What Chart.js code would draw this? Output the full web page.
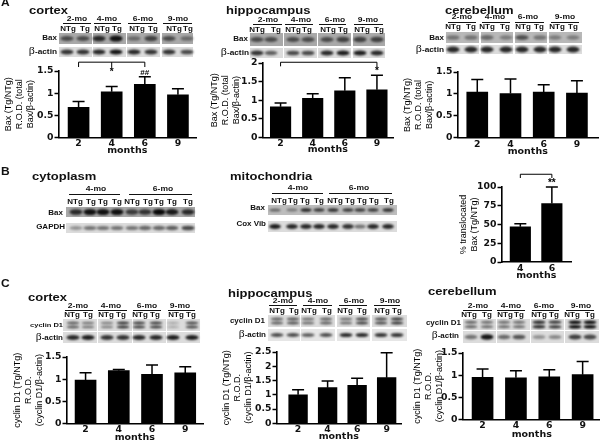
<!DOCTYPE html>
<html><head><meta charset="utf-8">
<style>
html,body{margin:0;padding:0;background:#fff;width:600px;height:442px;overflow:hidden}
#page{position:absolute;left:0;top:0;width:600px;height:442px;overflow:hidden;filter:blur(.35px)}
#page canvas{position:absolute}
.t{position:absolute;white-space:nowrap;line-height:1;color:#111;font-family:"Liberation Sans",Arial,sans-serif}
.g{font-family:"Liberation Serif",serif;font-weight:400;font-size:1.45em;line-height:.6}
</style>
<script src="https://cdn.jsdelivr.net/npm/chart.js@4/dist/chart.umd.min.js"></script>
</head><body><div id="page"><canvas id="blots" width="600" height="442" style="left:0;top:0"></canvas></div>
<script>
// ---- categories and tick labels
const monthsAll = ['2','4','6','9'];
const monthsTrans = ['4','6'];
const ticks15 = [0,0.5,1,1.5];
const ticks20 = [0,0.5,1,1.5,2];
const ticks25 = [0,0.5,1,1.5,2,2.5];
const ticks100 = [0,25,50,75,100];
// ---- bar values and upper error-bar ends
const baxCortex = [0.68,1.03,1.20,0.96];
const baxCortexErr = [0.81,1.15,1.37,1.10];
const baxHippo = [0.82,1.05,1.25,1.28];
const baxHippoErr = [0.92,1.17,1.60,1.67];
const baxCereb = [1.04,1.01,1.04,1.02];
const baxCerebErr = [1.33,1.34,1.21,1.30];
const transloc = [47,78];
const translocErr = [51,100];
const cycCortex = [0.98,1.19,1.11,1.14];
const cycCortexErr = [1.145,1.22,1.32,1.28];
const cycHippo = [1.0,1.25,1.33,1.6];
const cycHippoErr = [1.18,1.48,1.58,2.47];
const cycCereb = [0.95,0.94,0.96,1.01];
const cycCerebErr = [1.14,1.10,1.12,1.31];
// ---- band darkness of the western-blot strips
const wbCortexBax = [.6,.6,.8,.95,.4,.65,.6,.4];
const wbCortexAct = [.8,.8,.85,.95,.85,.8,.8,.7];
const wbHippoBax = [.6,.6,.6,.6,.6,.65,.65,.65];
const wbHippoAct = [.8,.6,.7,.7,.85,.9,.9,.85];
const wbCerebBax = [.4,.4,.45,.35,.6,.4,.35,.35];
const wbCerebAct = [.85,.85,.85,.85,.85,.85,.85,.85];
const wbCytoBax = [.8,.95,.95,.95,.7,.75,1,.9,.8];
const wbCytoGapdh = [.35,.5,.5,.5,.5,.55,.55,.6,.7];
const wbMitoBax = [.5,.4,.85,.75,.8,.75,.75,.75,.8];
const wbMitoCox = [.9,.85,.85,.85,.85,.8,.5,.85,.85];
const wbCycCortex = [.6,.5,.45,.8,.75,.75,.25,.7];
const wbCycCortexAct = [.85,.9,.8,.8,.85,.85,.9,.9];
const wbCycHippo = [.6,.65,.55,.6,.55,.75,.7,.8];
const wbCycHippoAct = [.7,.7,.65,.7,.85,.85,.8,.8];
const wbCycCereb = [.6,.55,.55,.55,.85,.8,1,1];
const wbCycCerebAct = [.5,.95,.55,.65,.35,.4,.75,.7];

const FONT = '"Liberation Sans",Arial,sans-serif';
const WIDE = '"DejaVu Sans",sans-serif';
const page = document.getElementById('page');
const SQUAT = 1.2;
function T(txt,x,y,size,align,bold,html){
  const s=document.createElement('span'); s.className='t';
  if(html) s.innerHTML=txt; else s.textContent=txt;
  s.style.left=x+'px'; s.style.top=y+'px'; s.style.fontSize=(size/SQUAT)+'px';
  s.style.fontWeight=bold===false?'400':'700';
  const tx=align==='r'?'-100%':align==='l'?'0':'-50%';
  s.style.transformOrigin=(align==='r'?'right':align==='l'?'left':'center')+' center';
  s.style.transform='translate('+tx+',-50%) scaleX('+SQUAT+')';
  page.appendChild(s);
}
const BETA='<span class="g">β</span>-actin';

// ---- blots
const bc=document.getElementById('blots').getContext('2d');
function strip(panels,y0,y1,bg,lanes,levels,opt){
  opt=opt||{};
  const bh=opt.bh||2.6, bw=opt.bw||6.5, dbl=opt.dbl||0;
  panels.forEach(p=>{
    bc.filter='none'; bc.fillStyle=bg; bc.fillRect(p[0],y0,p[1]-p[0],y1-y0);
  });
  const yc=(y0+y1)/2;
  lanes.forEach((x,i)=>{
    const a=levels[i];
    bc.filter='blur(.9px)';
    bc.fillStyle='rgba(8,8,8,'+a+')';
    const b=bh*(.7+a*.5);
    const ys=dbl?[yc-dbl,yc+dbl]:[yc];
    ys.forEach(yy=>{bc.beginPath();bc.ellipse(x,yy,bw,b,0,0,Math.PI*2);bc.fill();});
  });
  bc.filter='none';
}
function months(list,y,uy){
  list.forEach(m=>{
    T(m[0]+'-mo',m[1],y,8.5,'c');
    bc.fillStyle='#111'; bc.fillRect(m[2],uy,m[3]-m[2],1);
  });
}
function lanesText(list,y){
  list.forEach(p=>T(p[0],p[1],y,8,'c'));
}
function pairs(xs){
  return xs.map((x,i)=>[i%2?'Tg':'NTg',x]);
}
const GRAY='#a9a9a9', LIGHT='#dcdcdc';
// A cortex
let p=[[59,92],[93,126],[127,160],[162,193]];
let l=[67,83,99,116,134,151,169,187];
strip(p,33,44,GRAY,l,wbCortexBax);
strip(p,47,57,LIGHT,l,wbCortexAct,{bh:2.2});
months([['2',77,63,91],['4',107,94,121],['6',143,128,157],['9',178,163,192]],20,23);
lanesText(pairs([68,85,102,117,137,153,174,188]),29);
T('Bax',57,38,8,'r'); T(BETA,57,52,8.3,'r',true,true);
// A hippocampus
p=[[250,283],[284,317],[318,351],[353,385]];
l=[257,271,293,308,327,343,360,377];
strip(p,33,46,GRAY,l,wbHippoBax);
strip(p,48,58,LIGHT,l,wbHippoAct,{bh:2.2});
months([['2',268,253,282],['4',301,285,313],['6',335,319,346],['9',368,354,383]],21,24);
lanesText(pairs([257,276,293,307,328,343,362,379]),30);
T('Bax',248,39,8,'r'); T(BETA,249,53,8.3,'r',true,true);
// A cerebellum
p=[[446,479],[481,513],[515,547],[549,582]];
l=[453,471,487,506,522,540,555,573];
strip(p,32,43,'#b8b8b8',l,wbCerebBax);
strip(p,45,54,LIGHT,l,wbCerebAct,{bh:2.6});
months([['2',462,448,476],['4',495,482,510],['6',528,515,544],['9',565,551,579]],18,22);
lanesText(pairs([453,471,487,505,523,539,557,573]),27);
T('Bax',444,38,8,'r'); T(BETA,444,50,8.3,'r',true,true);
// B cytoplasm
p=[[66,195]]; l=[76,90,103,117,132,145,159,172,188];
strip(p,207,217,GRAY,l,wbCytoBax,{bw:6.5});
strip(p,223,233,LIGHT,l,wbCytoGapdh,{bh:2.2});
months([['4',96,69,120],['6',163,129,192]],190,194);
[['NTg',75],['Tg',91],['Tg',103],['Tg',117],['NTg',132],['Tg',148],['Tg',159],['Tg',172],['Tg',188]].forEach(q=>T(q[0],q[1],202,8,'c'));
T('Bax',63,213,8,'r'); T('GAPDH',65,227,8,'r');
// B mitochondria
p=[[268,397]]; l=[275,292,306,319,333,348,360,373,388];
strip(p,205,215,'#bdbdbd',l,wbMitoBax,{bw:5.5,bh:1.6});
strip(p,221,232,LIGHT,l,wbMitoCox,{bw:5.8,bh:2.2});
months([['4',298,272,323],['6',359,329,392]],189,193);
[['NTg',279],['Tg',293],['Tg',305],['Tg',319],['NTg',335],['Tg',350],['Tg',362],['Tg',374],['Tg',389]].forEach(q=>T(q[0],q[1],200.5,8,'c'));
T('Bax',265,208,8,'r'); T('Cox Vib',266,224,8,'r');
// C cortex
p=[[63,97],[98,132],[133,166],[167,200]]; l=[73,88,107,123,139,156,173,192];
strip(p,319,331,LIGHT,l,wbCycCortex,{bh:1.4,dbl:2});
strip(p,332,343,LIGHT,l,wbCycCortexAct,{bh:2.2});
months([['2',78,65,93],['4',111,98,127],['6',147,133,161],['9',180,168,195]],307,310);
lanesText(pairs([72,88,106,121,140,155,176,191]),315);
T('cyclin D1',63,325,7.5,'r'); T(BETA,63,338,8,'r',true,true);
// C hippocampus
p=[[268,300],[301,335],[337,370],[372,407]]; l=[277,293,308,326,346,362,381,397];
strip(p,315,327,LIGHT,l,wbCycHippo,{bh:1.4,dbl:2});
strip(p,329,341,'#e6e6e6',l,wbCycHippoAct,{bh:1.8});
months([['2',283,269,297],['4',318,303,332],['6',354,339,367],['9',390,374,400]],302,305);
lanesText(pairs([277,294,309,327,345,362,382,397]),311);
T('cyclin D1',265,321,8,'r'); T(BETA,266,335,8,'r',true,true);
// C cerebellum
p=[[463,496],[497,530],[531,564],[565,599]]; l=[471,487,504,519,539,555,575,590];
strip(p,319,330,LIGHT,l,wbCycCereb,{bh:1.5,dbl:2.3});
strip(p,331,343,LIGHT,l,wbCycCerebAct,{bh:2.3});
months([['2',478,463,492],['4',511,497,525],['6',544,532,559],['9',581,566,594]],307,310);
lanesText(pairs([469,487,505,519,539,554,572,590]),315);
T('cyclin D1',461,323,8,'r'); T(BETA,459,336,8,'r',true,true);

// headings
T('A',1,3,12,'l'); T('B',1,172,12,'l'); T('C',1,284,12,'l');
T('cortex',29,10,13,'l'); T('hippocampus',226,10,13,'l'); T('cerebellum',445,10,13,'l');
T('cytoplasm',32,176,13,'l'); T('mitochondria',230,176,13,'l');
T('cortex',28,297,13,'l'); T('hippocampus',228,293,13,'l'); T('cerebellum',428,291,13,'l');

// ---- charts
const marks={
  id:'marks',
  afterDatasetsDraw(ch,_,o){
    const c=ch.ctx,x=ch.scales.x,y=ch.scales.y;
    c.save(); c.strokeStyle='#000'; c.fillStyle='#000'; c.lineWidth=1.5;
    (o.err||[]).forEach((v,i)=>{
      const px=x.getPixelForValue(i), top=y.getPixelForValue(v), b=y.getPixelForValue(ch.data.datasets[0].data[i]);
      c.beginPath(); c.moveTo(px,b); c.lineTo(px,top); c.moveTo(px-6,top); c.lineTo(px+6,top); c.stroke();
    });
    if(o.bracket){
      const k=o.bracket, a=x.getPixelForValue(k.from), e=x.getPixelForValue(k.to), t=y.getPixelForValue(k.top), f=y.getPixelForValue(k.foot);
      c.lineWidth=1; c.beginPath(); c.moveTo(a,f); c.lineTo(a,t); c.lineTo(e,t); c.lineTo(e,f);
      if(k.mid!==undefined){const m=x.getPixelForValue(k.mid); c.moveTo(m,t); c.lineTo(m,f);}
      c.stroke();
    }
    (o.notes||[]).forEach(n=>{
      c.font='700 '+n.size+'px '+FONT; c.textAlign='center'; c.textBaseline='middle';
      c.fillText(n.text,x.getPixelForValue(n.at),y.getPixelForValue(n.y));
    });
    c.restore();
  }
};
function panel(k){
  const cv=document.createElement('canvas');
  const left=k.line1-5.5, top=k.yTop-14, bottom=k.monthsY+6, pr=8;
  const W=Math.round(k.right-left+pr), H=Math.round(bottom-top);
  cv.width=W; cv.height=H; cv.style.left=left+'px'; cv.style.top=top+'px';
  page.appendChild(cv);
  const n=k.labels.length;
  new Chart(cv.getContext('2d'),{
    type:'bar',
    data:{labels:k.labels,datasets:[{data:k.values,backgroundColor:'#000',barThickness:k.barW,borderWidth:0}]},
    plugins:[marks],
    options:{
      responsive:false,animation:false,
      layout:{padding:{top:14,right:pr,left:0,bottom:0}},
      plugins:{legend:{display:false},tooltip:{enabled:false},
        marks:{err:k.err,bracket:k.bracket,notes:k.notes}},
      scales:{
        x:{type:'category',
          grid:{display:false,drawTicks:false},
          border:{color:'#000',width:1.6},
          ticks:{color:'#111',padding:1,maxRotation:0,autoSkip:false,font:{family:WIDE,weight:'bold',size:9.3}},
          title:{display:true,text:'months',color:'#111',padding:0,font:{family:WIDE,weight:'bold',size:9.5,lineHeight:1.26}},
          afterFit(s){s.height=bottom-k.y0;},
          afterUpdate(s){
            const sp=(k.cLast-k.cFirst)/(n-1);
            s._startValue=-(k.cFirst-k.axisX)/sp;
            s._valueRange=(k.right-k.axisX)/sp;
          }},
        y:{type:'linear',min:0,max:k.max,
          grid:{drawOnChartArea:false,drawTicks:true,tickLength:4,tickWidth:1.5,tickColor:'#000'},
          border:{color:'#000',width:1.6},
          ticks:{color:'#111',padding:1,autoSkip:false,font:{family:WIDE,weight:'bold',size:9.3},callback:v=>String(v)},
          afterBuildTicks(s){s.ticks=k.ticks.map(v=>({value:v}));},
          title:{display:true,text:k.yTitle,color:'#000',padding:0,font:{family:FONT,size:9,lineHeight:k.lh||1.22}},
          afterFit(s){s.width=k.axisX-left;}}
      }
    }
  });
}
const titleBax=['Bax (Tg/NTg)','R.O.D. (total','Bax/β-actin)'];
const titleCyc=['cyclin D1 (Tg/NTg)','R.O.D.','(cyclin D1/β-actin)'];
panel({line1:8,axisX:58,right:195,yTop:71,y0:137.3,monthsY:151,cFirst:78,cLast:177,barW:21,labels:monthsAll,values:baxCortex,err:baxCortexErr,max:1.5,ticks:ticks15,yTitle:titleBax,
  bracket:{from:0,to:2,mid:1,top:1.70,foot:1.59},notes:[{text:'*',at:1,y:1.47,size:10},{text:'##',at:2,y:1.45,size:8}]});
panel({line1:214,axisX:262,right:392,yTop:62.7,y0:137.3,monthsY:150,cFirst:280,cLast:376,barW:20.5,labels:monthsAll,values:baxHippo,err:baxHippoErr,max:2,ticks:ticks20,yTitle:titleBax,
  bracket:{from:0,to:3,top:2.02,foot:1.91},notes:[{text:'*',at:3,y:1.77,size:10}]});
panel({line1:407,axisX:457,right:597,yTop:71.7,y0:137.3,monthsY:151.5,cFirst:476.7,cLast:576,barW:21,labels:monthsAll,values:baxCereb,err:baxCerebErr,max:1.5,ticks:ticks15,yTitle:titleBax});
panel({line1:463,axisX:501,right:570,yTop:186.7,y0:262,monthsY:276,cFirst:519.7,cLast:551,barW:20.5,labels:monthsTrans,values:transloc,err:translocErr,max:100,ticks:ticks100,yTitle:['% translocated','Bax (Tg/NTg)'],
  bracket:{from:0,to:1,top:117,foot:112},notes:[{text:'**',at:1,y:105,size:10}]});
panel({line1:17,axisX:66,right:202,yTop:357,y0:423.3,monthsY:438,cFirst:85,cLast:184.3,barW:21,labels:monthsAll,values:cycCortex,err:cycCortexErr,max:1.5,ticks:ticks15,yTitle:titleCyc});
panel({line1:226,axisX:276,right:400,yTop:352.3,y0:424,monthsY:437.7,cFirst:297.5,cLast:385.7,barW:18.7,labels:monthsAll,values:cycHippo,err:cycHippoErr,max:2.5,ticks:ticks25,yTitle:titleCyc});
panel({line1:417,axisX:462,right:600,yTop:352.7,y0:418.7,monthsY:434.3,cFirst:482,cLast:581.7,barW:21,labels:monthsAll,values:cycCereb,err:cycCerebErr,max:1.5,ticks:ticks15,yTitle:titleCyc});
</script></body></html>
